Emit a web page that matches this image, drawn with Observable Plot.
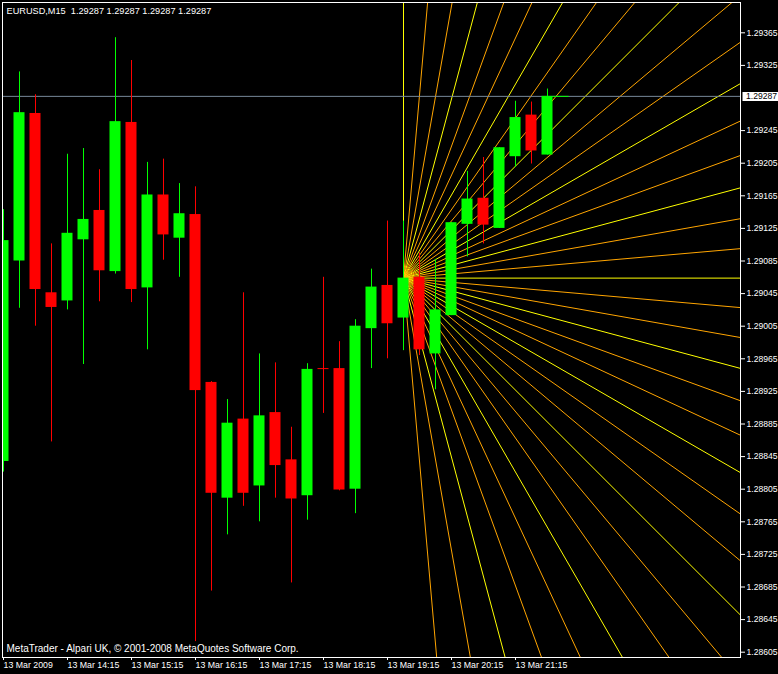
<!DOCTYPE html>
<html><head><meta charset="utf-8">
<script src="https://cdn.jsdelivr.net/npm/d3@7"></script>
<script src="https://cdn.jsdelivr.net/npm/@observablehq/plot@0.6"></script>
<style>
html,body{margin:0;padding:0;background:#000;}
#chart{width:778px;height:674px;overflow:hidden;}
</style></head><body><div id="chart"></div>
<script>
// EURUSD M15, 13 Mar 2009, bars 13:15 .. 21:45
const barIndex = [0,1,2,3,4,5,6,7,8,9,10,11,12,13,14,15,16,17,18,19,20,21,22,23,24,25,26,27,28,29,30,31,32,33,34];
const open  = [1.28839,1.29085,1.29266,1.29046,1.29036,1.29111,1.29147,1.29072,1.29255,1.29052,1.29166,1.29113,1.29142,1.28936,1.28794,1.28891,1.28809,1.28899,1.28841,1.28797,1.28953,1.28953,1.28805,1.29002,1.29055,1.29015,1.29065,1.28971,1.29018,1.29130,1.29162,1.29125,1.29213,1.29264,1.29215];
const high  = [1.29148,1.29317,1.29289,1.29106,1.29216,1.29223,1.29197,1.29359,1.29331,1.29206,1.29210,1.29180,1.29176,1.28937,1.28915,1.29046,1.28971,1.28960,1.28881,1.28959,1.29065,1.28986,1.29013,1.29075,1.29134,1.29134,1.29095,1.29087,1.29132,1.29195,1.29212,1.29224,1.29281,1.29280,1.29296];
const low   = [1.28826,1.29027,1.29005,1.28863,1.29025,1.28958,1.29035,1.29069,1.29034,1.28976,1.29086,1.29065,1.28618,1.28680,1.28749,1.28784,1.28765,1.28794,1.28690,1.28767,1.28898,1.28803,1.28775,1.28953,1.28965,1.28975,1.28969,1.28927,1.29018,1.29090,1.29106,1.29125,1.29200,1.29204,1.29215];
const close = [1.29110,1.29267,1.29050,1.29028,1.29119,1.29136,1.29073,1.29256,1.29050,1.29166,1.29117,1.29143,1.28926,1.28800,1.28886,1.28800,1.28895,1.28834,1.28793,1.28952,1.28953,1.28804,1.29005,1.29053,1.29008,1.29064,1.28976,1.29025,1.29132,1.29161,1.29129,1.29224,1.29261,1.29220,1.29287];

const xTickIndex  = [0,4,8,12,16,20,24,28,32];
const xTickLabels = ["13 Mar 2009","13 Mar 14:15","13 Mar 15:15","13 Mar 16:15","13 Mar 17:15","13 Mar 18:15","13 Mar 19:15","13 Mar 20:15","13 Mar 21:15"];
const yTicks = [1.28605,1.28645,1.28685,1.28725,1.28765,1.28805,1.28845,1.28885,1.28925,1.28965,1.29005,1.29045,1.29085,1.29125,1.29165,1.29205,1.29245,1.29325,1.29365];

const symbol = "EURUSD,M15";
const bid = 1.29287;
const credit = "MetaTrader - Alpari UK, © 2001-2008 MetaQuotes Software Corp.";

// fan of rays (screen angles in degrees, + = downward), anchored on bar 25 close
const fanOriginIndex = 25;
const rayAngles = [-90,-85,-80,-75,-70,-65,-60,-55,-50,-45,-40,-35,-30,-25,-20,-15,-10,-5,0,5,10,15,20,25,30,35,40,45,50,55,60,65,70,75,80,85];

// ---- layout / scales ----
const W = 778, H = 674;
const mL = 2, mR = 38, mT = 2, mB = 17;
const xDomain = [-0.0625, 46.0625];
const yDomain = [1.285985, 1.2940218];
const xRange = [mL, W - mR], yRange = [H - mB, mT];
const BULL = "#00ff00", BEAR = "#ff0000";
const half = 5.5 / 16;

const bars = barIndex.map(i => ({i, o: open[i], h: high[i], l: low[i], c: close[i],
  col: close[i] > open[i] ? BULL : BEAR}));
const dojis = bars.filter(d => d.o === d.c);

const sx = Plot.scale({x: {domain: xDomain, range: xRange}});
const sy = Plot.scale({y: {domain: yDomain, range: yRange}});
const fanOriginPrice = close[fanOriginIndex];
const ox = sx.apply(fanOriginIndex), oy = sy.apply(fanOriginPrice);
const rays = rayAngles.map(a => {
  const r = a * Math.PI / 180, L = 2000;
  return {x1: fanOriginIndex, y1: fanOriginPrice,
    x2: sx.invert(ox + L * Math.cos(r)), y2: sy.invert(oy + L * Math.sin(r)),
    col: a % 15 === 0 ? "#ffff00" : "#ffa500"};
});

const font = "'Liberation Sans', Arial, sans-serif";
const last = barIndex[barIndex.length - 1];

const chart = Plot.plot({
  width: W, height: H,
  marginLeft: mL, marginRight: mR, marginTop: mT, marginBottom: mB,
  style: {background: "#000", color: "#fff", fontFamily: font, fontSize: "9px"},
  x: {domain: xDomain, range: xRange},
  y: {domain: yDomain, range: yRange},
  color: {type: "identity"},
  marks: [
    Plot.link(rays, {x1: "x1", y1: "y1", x2: "x2", y2: "y2", stroke: "col", strokeWidth: 1, clip: true}),
    Plot.ruleY([bid], {stroke: "#778899", strokeWidth: 1, clip: true}),
    Plot.ruleX(bars, {x: "i", y1: "l", y2: "h", stroke: "col", strokeWidth: 1, clip: true}),
    Plot.rect(bars, {x1: d => d.i - half, x2: d => d.i + half, y1: "o", y2: "c", fill: "col", clip: true}),
    Plot.ruleY(dojis, {y: "o", x1: d => d.i - half, x2: d => d.i + half, stroke: "col", clip: true}),
    Plot.ruleY([bid], {x1: last + half, x2: last + 1.35, stroke: BULL, clip: true}),
    Plot.frame({stroke: "#fff"}),
    Plot.axisY(yTicks, {anchor: "right", tickSize: 4, tickPadding: 2, tickFormat: d => d.toFixed(5), color: "#fff", fontSize: 8.6}),
    Plot.axisX(xTickIndex, {anchor: "bottom", tickSize: 3, tickPadding: 1, textAnchor: "start", dx: 0,
      tickFormat: d => xTickLabels[xTickIndex.indexOf(d)], color: "#fff", fontSize: 8.8}),
    Plot.text([`${symbol}  ${bid.toFixed(5)} ${bid.toFixed(5)} ${bid.toFixed(5)} ${bid.toFixed(5)}`],
      {frameAnchor: "top-left", dx: 4, dy: 9, lineAnchor: "middle", textAnchor: "start", fill: "#fff", fontSize: 9.2}),
    Plot.text([credit], {frameAnchor: "bottom-left", dx: 4, dy: -9, lineAnchor: "middle", textAnchor: "start", fill: "#fff", fontSize: 10})
  ]
});

// current price marker box on the right axis
const svg = d3.select(chart);
const py = chart.scale("y").apply(bid);
const g = svg.append("g").attr("transform", "translate(0.5,0.5)");
g.append("rect").attr("x", W - mR + 2).attr("y", Math.round(py) - 4.5).attr("width", mR - 2).attr("height", 9).attr("fill", "#fff");
g.append("text").attr("x", W - mR + 5.5).attr("y", py).attr("dy", "0.32em")
  .attr("text-anchor", "start")
  .attr("fill", "#000").attr("font-family", font).attr("font-size", 8.6).text(bid.toFixed(5));

document.getElementById("chart").appendChild(chart);
</script></body></html>
